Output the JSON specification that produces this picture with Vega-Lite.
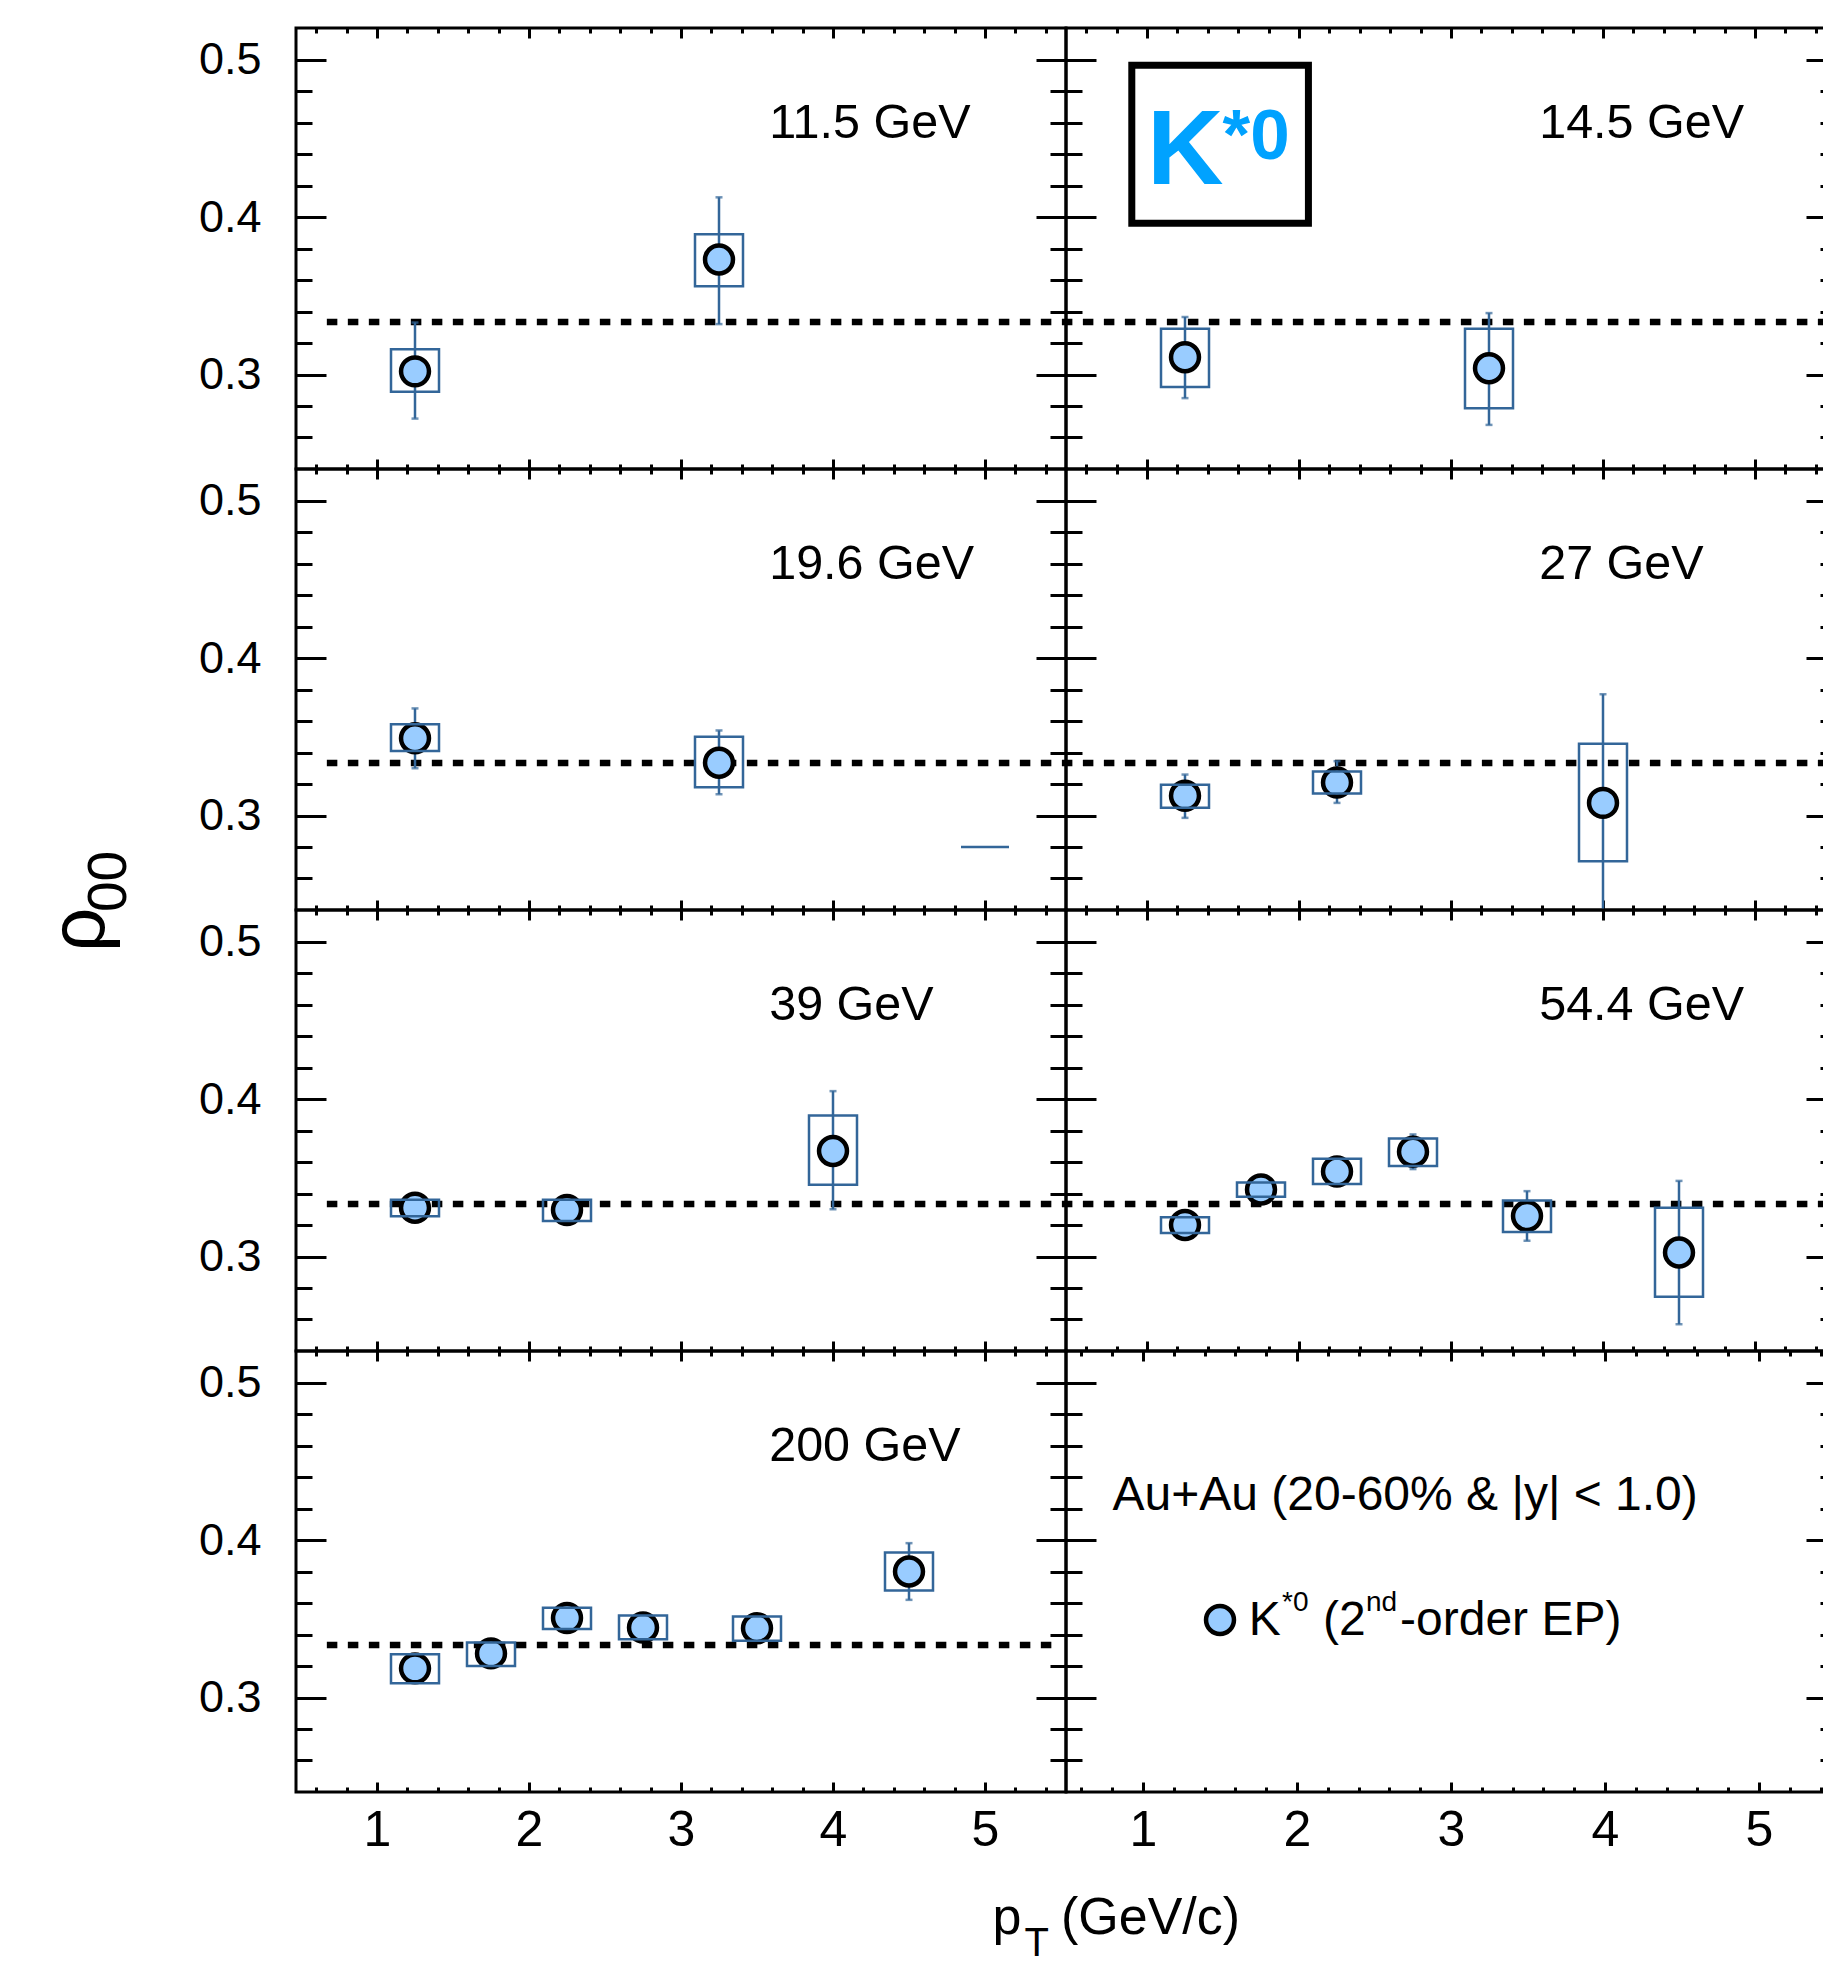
{
  "$schema": "https://vega.github.io/schema/vega-lite/v6.json",
  "background": "white",
  "padding": {"left": 40, "top": 25, "right": 0, "bottom": 0},
  "datasets": {
    "rho00": [
      {"e": "11.5 GeV", "pt": 1.25, "rho": 0.302, "statLo": 0.272, "statHi": 0.333, "sysLo": 0.289, "sysHi": 0.316},
      {"e": "11.5 GeV", "pt": 3.25, "rho": 0.373, "statLo": 0.332, "statHi": 0.4125, "sysLo": 0.356, "sysHi": 0.389},
      {"e": "14.5 GeV", "pt": 1.25, "rho": 0.311, "statLo": 0.285, "statHi": 0.3365, "sysLo": 0.292, "sysHi": 0.329},
      {"e": "14.5 GeV", "pt": 3.25, "rho": 0.304, "statLo": 0.268, "statHi": 0.339, "sysLo": 0.2785, "sysHi": 0.329},
      {"e": "19.6 GeV", "pt": 1.25, "rho": 0.349, "statLo": 0.33, "statHi": 0.368, "sysLo": 0.341, "sysHi": 0.358},
      {"e": "19.6 GeV", "pt": 3.25, "rho": 0.3335, "statLo": 0.3135, "statHi": 0.354, "sysLo": 0.318, "sysHi": 0.35},
      {"e": "19.6 GeV", "pt": 5.0, "rho": null, "statLo": null, "statHi": null, "sysLo": 0.28, "sysHi": 0.28},
      {"e": "27 GeV", "pt": 1.25, "rho": 0.3125, "statLo": 0.2985, "statHi": 0.326, "sysLo": 0.305, "sysHi": 0.3195},
      {"e": "27 GeV", "pt": 2.25, "rho": 0.321, "statLo": 0.308, "statHi": 0.3345, "sysLo": 0.314, "sysHi": 0.328},
      {"e": "27 GeV", "pt": 4.0, "rho": 0.308, "statLo": 0.239, "statHi": 0.377, "sysLo": 0.271, "sysHi": 0.3455},
      {"e": "39 GeV", "pt": 1.25, "rho": 0.331, "statLo": 0.328, "statHi": 0.334, "sysLo": 0.3255, "sysHi": 0.336},
      {"e": "39 GeV", "pt": 2.25, "rho": 0.3295, "statLo": 0.3265, "statHi": 0.3325, "sysLo": 0.3225, "sysHi": 0.336},
      {"e": "39 GeV", "pt": 4.0, "rho": 0.367, "statLo": 0.33, "statHi": 0.405, "sysLo": 0.3455, "sysHi": 0.3895},
      {"e": "54.4 GeV", "pt": 1.25, "rho": 0.32, "statLo": 0.317, "statHi": 0.323, "sysLo": 0.315, "sysHi": 0.325},
      {"e": "54.4 GeV", "pt": 1.75, "rho": 0.3425, "statLo": 0.34, "statHi": 0.345, "sysLo": 0.338, "sysHi": 0.347},
      {"e": "54.4 GeV", "pt": 2.25, "rho": 0.354, "statLo": 0.351, "statHi": 0.357, "sysLo": 0.346, "sysHi": 0.362},
      {"e": "54.4 GeV", "pt": 2.75, "rho": 0.3665, "statLo": 0.3555, "statHi": 0.3775, "sysLo": 0.3575, "sysHi": 0.375},
      {"e": "54.4 GeV", "pt": 3.5, "rho": 0.3257, "statLo": 0.31, "statHi": 0.3415, "sysLo": 0.3155, "sysHi": 0.3355},
      {"e": "54.4 GeV", "pt": 4.5, "rho": 0.3025, "statLo": 0.257, "statHi": 0.348, "sysLo": 0.2745, "sysHi": 0.331},
      {"e": "200 GeV", "pt": 1.25, "rho": 0.3185, "statLo": 0.316, "statHi": 0.321, "sysLo": 0.309, "sysHi": 0.3275},
      {"e": "200 GeV", "pt": 1.75, "rho": 0.328, "statLo": 0.325, "statHi": 0.331, "sysLo": 0.32, "sysHi": 0.335},
      {"e": "200 GeV", "pt": 2.25, "rho": 0.3505, "statLo": 0.348, "statHi": 0.353, "sysLo": 0.3435, "sysHi": 0.357},
      {"e": "200 GeV", "pt": 2.75, "rho": 0.3445, "statLo": 0.342, "statHi": 0.347, "sysLo": 0.337, "sysHi": 0.352},
      {"e": "200 GeV", "pt": 3.5, "rho": 0.344, "statLo": 0.341, "statHi": 0.347, "sysLo": 0.336, "sysHi": 0.3515},
      {"e": "200 GeV", "pt": 4.5, "rho": 0.38, "statLo": 0.362, "statHi": 0.398, "sysLo": 0.368, "sysHi": 0.392}
    ]
  },
  "columns": 2,
  "spacing": 0,
  "bounds": "flush",
  "concat": [
    {
      "width": 770, "height": 441,
      "resolve": {"axis": {"x": "independent", "y": "independent"}},
      "layer": [
        {"data": {"values": [{}]},
         "mark": {"type": "rule", "color": "black", "strokeWidth": 6.5, "strokeDash": [10.5, 10.5]},
         "encoding": {
           "x": {"datum": 0.67, "type": "quantitative", "scale": {"domain": [0.5, 5.5], "nice": false, "zero": false},
                 "axis": {"orient": "bottom", "values": [1, 2, 3, 4, 5], "tickSize": -10, "labels": false, "title": null}},
           "x2": {"datum": 5.5},
           "y": {"datum": 0.3333, "type": "quantitative", "scale": {"domain": [0.24, 0.52], "nice": false, "zero": false},
                 "axis": {"orient": "left", "values": [0.3, 0.4, 0.5], "tickSize": -30, "labelPadding": 65, "format": ".1f", "title": null}}}},
        {"data": {"name": "rho00"}, "transform": [{"filter": "datum.e === '11.5 GeV'"}],
         "mark": {"type": "rule", "color": "#336699", "strokeWidth": 2.5, "clip": true},
         "encoding": {
           "x": {"field": "pt", "type": "quantitative", "axis": {"orient": "top", "values": [1, 2, 3, 4, 5], "tickSize": -10, "labels": false, "title": null}},
           "y": {"field": "statLo", "type": "quantitative", "axis": {"orient": "right", "values": [0.3, 0.4, 0.5], "tickSize": -30, "labels": false, "title": null}},
           "y2": {"field": "statHi"}}},
        {"data": {"name": "rho00"}, "transform": [{"filter": "datum.e === '11.5 GeV'"}],
         "mark": {"type": "tick", "orient": "horizontal", "color": "#336699", "size": 7, "thickness": 2.5, "clip": true},
         "encoding": {
           "x": {"field": "pt", "type": "quantitative", "axis": {"orient": "bottom", "values": [0.6, 0.8, 1.2, 1.4, 1.6, 1.8, 2.2, 2.4, 2.6, 2.8, 3.2, 3.4, 3.6, 3.8, 4.2, 4.4, 4.6, 4.8, 5.2, 5.4], "tickSize": -5, "labels": false, "title": null}},
           "y": {"field": "statLo", "type": "quantitative", "axis": {"orient": "left", "values": [0.26, 0.28, 0.32, 0.34, 0.36, 0.38, 0.42, 0.44, 0.46, 0.48], "tickSize": -16, "labels": false, "title": null}}}},
        {"data": {"name": "rho00"}, "transform": [{"filter": "datum.e === '11.5 GeV'"}],
         "mark": {"type": "tick", "orient": "horizontal", "color": "#336699", "size": 7, "thickness": 2.5, "clip": true},
         "encoding": {
           "x": {"field": "pt", "type": "quantitative", "axis": {"orient": "top", "values": [0.6, 0.8, 1.2, 1.4, 1.6, 1.8, 2.2, 2.4, 2.6, 2.8, 3.2, 3.4, 3.6, 3.8, 4.2, 4.4, 4.6, 4.8, 5.2, 5.4], "tickSize": -5, "labels": false, "title": null}},
           "y": {"field": "statHi", "type": "quantitative", "axis": {"orient": "right", "values": [0.26, 0.28, 0.32, 0.34, 0.36, 0.38, 0.42, 0.44, 0.46, 0.48], "tickSize": -16, "labels": false, "title": null}}}},
        {"data": {"name": "rho00"}, "transform": [{"filter": "datum.e === '11.5 GeV'"}],
         "mark": {"type": "point", "shape": "circle", "filled": true, "fill": "#99ccff", "stroke": "black", "strokeWidth": 4.5, "size": 780, "opacity": 1},
         "encoding": {"x": {"field": "pt", "type": "quantitative", "axis": null}, "y": {"field": "rho", "type": "quantitative", "axis": null}}},
        {"data": {"name": "rho00"}, "transform": [{"filter": "datum.e === '11.5 GeV'"}],
         "mark": {"type": "bar", "width": 48, "fillOpacity": 0, "stroke": "#336699", "strokeWidth": 2.5, "clip": true},
         "encoding": {"x": {"field": "pt", "type": "quantitative", "axis": null}, "y": {"field": "sysLo", "type": "quantitative", "axis": null}, "y2": {"field": "sysHi"}}},
        {"data": {"values": [{}]},
         "mark": {"type": "text", "text": "11.5 GeV", "align": "left", "baseline": "alphabetic", "fontSize": 48.5},
         "encoding": {"x": {"datum": 3.58, "type": "quantitative", "axis": null}, "y": {"datum": 0.45, "type": "quantitative", "axis": null}}}
      ]
    },
    {
      "width": 770, "height": 441,
      "resolve": {"axis": {"x": "independent", "y": "independent"}},
      "layer": [
        {"data": {"values": [{}]},
         "mark": {"type": "rule", "color": "black", "strokeWidth": 6.5, "strokeDash": [10.5, 10.5]},
         "encoding": {
           "x": {"datum": 0.44, "type": "quantitative", "scale": {"domain": [0.5, 5.5], "nice": false, "zero": false},
                 "axis": {"orient": "bottom", "values": [1, 2, 3, 4, 5], "tickSize": -10, "labels": false, "title": null}},
           "x2": {"datum": 5.5},
           "y": {"datum": 0.3333, "type": "quantitative", "scale": {"domain": [0.24, 0.52], "nice": false, "zero": false},
                 "axis": {"orient": "left", "values": [0.3, 0.4, 0.5], "tickSize": -30, "labels": false, "title": null}}}},
        {"data": {"name": "rho00"}, "transform": [{"filter": "datum.e === '14.5 GeV'"}],
         "mark": {"type": "rule", "color": "#336699", "strokeWidth": 2.5, "clip": true},
         "encoding": {
           "x": {"field": "pt", "type": "quantitative", "axis": {"orient": "top", "values": [1, 2, 3, 4, 5], "tickSize": -10, "labels": false, "title": null}},
           "y": {"field": "statLo", "type": "quantitative", "axis": {"orient": "right", "values": [0.3, 0.4, 0.5], "tickSize": -30, "labels": false, "title": null}},
           "y2": {"field": "statHi"}}},
        {"data": {"name": "rho00"}, "transform": [{"filter": "datum.e === '14.5 GeV'"}],
         "mark": {"type": "tick", "orient": "horizontal", "color": "#336699", "size": 7, "thickness": 2.5, "clip": true},
         "encoding": {
           "x": {"field": "pt", "type": "quantitative", "axis": {"orient": "bottom", "values": [0.6, 0.8, 1.2, 1.4, 1.6, 1.8, 2.2, 2.4, 2.6, 2.8, 3.2, 3.4, 3.6, 3.8, 4.2, 4.4, 4.6, 4.8, 5.2, 5.4], "tickSize": -5, "labels": false, "title": null}},
           "y": {"field": "statLo", "type": "quantitative", "axis": {"orient": "left", "values": [0.26, 0.28, 0.32, 0.34, 0.36, 0.38, 0.42, 0.44, 0.46, 0.48], "tickSize": -16, "labels": false, "title": null}}}},
        {"data": {"name": "rho00"}, "transform": [{"filter": "datum.e === '14.5 GeV'"}],
         "mark": {"type": "tick", "orient": "horizontal", "color": "#336699", "size": 7, "thickness": 2.5, "clip": true},
         "encoding": {
           "x": {"field": "pt", "type": "quantitative", "axis": {"orient": "top", "values": [0.6, 0.8, 1.2, 1.4, 1.6, 1.8, 2.2, 2.4, 2.6, 2.8, 3.2, 3.4, 3.6, 3.8, 4.2, 4.4, 4.6, 4.8, 5.2, 5.4], "tickSize": -5, "labels": false, "title": null}},
           "y": {"field": "statHi", "type": "quantitative", "axis": {"orient": "right", "values": [0.26, 0.28, 0.32, 0.34, 0.36, 0.38, 0.42, 0.44, 0.46, 0.48], "tickSize": -16, "labels": false, "title": null}}}},
        {"data": {"name": "rho00"}, "transform": [{"filter": "datum.e === '14.5 GeV'"}],
         "mark": {"type": "point", "shape": "circle", "filled": true, "fill": "#99ccff", "stroke": "black", "strokeWidth": 4.5, "size": 780, "opacity": 1},
         "encoding": {"x": {"field": "pt", "type": "quantitative", "axis": null}, "y": {"field": "rho", "type": "quantitative", "axis": null}}},
        {"data": {"name": "rho00"}, "transform": [{"filter": "datum.e === '14.5 GeV'"}],
         "mark": {"type": "bar", "width": 48, "fillOpacity": 0, "stroke": "#336699", "strokeWidth": 2.5, "clip": true},
         "encoding": {"x": {"field": "pt", "type": "quantitative", "axis": null}, "y": {"field": "sysLo", "type": "quantitative", "axis": null}, "y2": {"field": "sysHi"}}},
        {"data": {"values": [{}]},
         "mark": {"type": "text", "text": "14.5 GeV", "align": "left", "baseline": "alphabetic", "fontSize": 48.5},
         "encoding": {"x": {"datum": 3.58, "type": "quantitative", "axis": null}, "y": {"datum": 0.45, "type": "quantitative", "axis": null}}},
        {"data": {"values": [{}]},
         "mark": {"type": "rect", "fillOpacity": 0, "stroke": "black", "strokeWidth": 7},
         "encoding": {"x": {"datum": 0.9, "type": "quantitative", "axis": null}, "x2": {"datum": 2.062},
                      "y": {"datum": 0.3961, "type": "quantitative", "axis": null}, "y2": {"datum": 0.4964}}},
        {"data": {"values": [{}]},
         "mark": {"type": "text", "text": "K", "align": "left", "baseline": "alphabetic", "fontSize": 106, "fontWeight": "bold", "color": "#00a2ff"},
         "encoding": {"x": {"datum": 1.0, "type": "quantitative", "axis": null}, "y": {"datum": 0.4208, "type": "quantitative", "axis": null}}},
        {"data": {"values": [{}]},
         "mark": {"type": "text", "text": "*0", "align": "left", "baseline": "alphabetic", "fontSize": 71, "fontWeight": "bold", "color": "#00a2ff"},
         "encoding": {"x": {"datum": 1.497, "type": "quantitative", "axis": null}, "y": {"datum": 0.4366, "type": "quantitative", "axis": null}}}
      ]
    },
    {
      "width": 770, "height": 441,
      "resolve": {"axis": {"x": "independent", "y": "independent"}},
      "layer": [
        {"data": {"values": [{}]},
         "mark": {"type": "rule", "color": "black", "strokeWidth": 6.5, "strokeDash": [10.5, 10.5]},
         "encoding": {
           "x": {"datum": 0.67, "type": "quantitative", "scale": {"domain": [0.5, 5.5], "nice": false, "zero": false},
                 "axis": {"orient": "bottom", "values": [1, 2, 3, 4, 5], "tickSize": -10, "labels": false, "title": null}},
           "x2": {"datum": 5.5},
           "y": {"datum": 0.3333, "type": "quantitative", "scale": {"domain": [0.24, 0.52], "nice": false, "zero": false},
                 "axis": {"orient": "left", "values": [0.3, 0.4, 0.5], "tickSize": -30, "labelPadding": 65, "format": ".1f", "title": null}}}},
        {"data": {"name": "rho00"}, "transform": [{"filter": "datum.e === '19.6 GeV'"}],
         "mark": {"type": "rule", "color": "#336699", "strokeWidth": 2.5, "clip": true},
         "encoding": {
           "x": {"field": "pt", "type": "quantitative", "axis": {"orient": "top", "values": [1, 2, 3, 4, 5], "tickSize": -10, "labels": false, "title": null}},
           "y": {"field": "statLo", "type": "quantitative", "axis": {"orient": "right", "values": [0.3, 0.4, 0.5], "tickSize": -30, "labels": false, "title": null}},
           "y2": {"field": "statHi"}}},
        {"data": {"name": "rho00"}, "transform": [{"filter": "datum.e === '19.6 GeV'"}],
         "mark": {"type": "tick", "orient": "horizontal", "color": "#336699", "size": 7, "thickness": 2.5, "clip": true},
         "encoding": {
           "x": {"field": "pt", "type": "quantitative", "axis": {"orient": "bottom", "values": [0.6, 0.8, 1.2, 1.4, 1.6, 1.8, 2.2, 2.4, 2.6, 2.8, 3.2, 3.4, 3.6, 3.8, 4.2, 4.4, 4.6, 4.8, 5.2, 5.4], "tickSize": -5, "labels": false, "title": null}},
           "y": {"field": "statLo", "type": "quantitative", "axis": {"orient": "left", "values": [0.26, 0.28, 0.32, 0.34, 0.36, 0.38, 0.42, 0.44, 0.46, 0.48], "tickSize": -16, "labels": false, "title": null}}}},
        {"data": {"name": "rho00"}, "transform": [{"filter": "datum.e === '19.6 GeV'"}],
         "mark": {"type": "tick", "orient": "horizontal", "color": "#336699", "size": 7, "thickness": 2.5, "clip": true},
         "encoding": {
           "x": {"field": "pt", "type": "quantitative", "axis": {"orient": "top", "values": [0.6, 0.8, 1.2, 1.4, 1.6, 1.8, 2.2, 2.4, 2.6, 2.8, 3.2, 3.4, 3.6, 3.8, 4.2, 4.4, 4.6, 4.8, 5.2, 5.4], "tickSize": -5, "labels": false, "title": null}},
           "y": {"field": "statHi", "type": "quantitative", "axis": {"orient": "right", "values": [0.26, 0.28, 0.32, 0.34, 0.36, 0.38, 0.42, 0.44, 0.46, 0.48], "tickSize": -16, "labels": false, "title": null}}}},
        {"data": {"name": "rho00"}, "transform": [{"filter": "datum.e === '19.6 GeV'"}],
         "mark": {"type": "point", "shape": "circle", "filled": true, "fill": "#99ccff", "stroke": "black", "strokeWidth": 4.5, "size": 780, "opacity": 1},
         "encoding": {"x": {"field": "pt", "type": "quantitative", "axis": null}, "y": {"field": "rho", "type": "quantitative", "axis": null}}},
        {"data": {"name": "rho00"}, "transform": [{"filter": "datum.e === '19.6 GeV'"}],
         "mark": {"type": "bar", "width": 48, "fillOpacity": 0, "stroke": "#336699", "strokeWidth": 2.5, "clip": true},
         "encoding": {"x": {"field": "pt", "type": "quantitative", "axis": null}, "y": {"field": "sysLo", "type": "quantitative", "axis": null}, "y2": {"field": "sysHi"}}},
        {"data": {"values": [{}]},
         "mark": {"type": "text", "text": "19.6 GeV", "align": "left", "baseline": "alphabetic", "fontSize": 48.5},
         "encoding": {"x": {"datum": 3.58, "type": "quantitative", "axis": null}, "y": {"datum": 0.45, "type": "quantitative", "axis": null}}}
      ]
    },
    {
      "width": 770, "height": 441,
      "resolve": {"axis": {"x": "independent", "y": "independent"}},
      "layer": [
        {"data": {"values": [{}]},
         "mark": {"type": "rule", "color": "black", "strokeWidth": 6.5, "strokeDash": [10.5, 10.5]},
         "encoding": {
           "x": {"datum": 0.44, "type": "quantitative", "scale": {"domain": [0.5, 5.5], "nice": false, "zero": false},
                 "axis": {"orient": "bottom", "values": [1, 2, 3, 4, 5], "tickSize": -10, "labels": false, "title": null}},
           "x2": {"datum": 5.5},
           "y": {"datum": 0.3333, "type": "quantitative", "scale": {"domain": [0.24, 0.52], "nice": false, "zero": false},
                 "axis": {"orient": "left", "values": [0.3, 0.4, 0.5], "tickSize": -30, "labels": false, "title": null}}}},
        {"data": {"name": "rho00"}, "transform": [{"filter": "datum.e === '27 GeV'"}],
         "mark": {"type": "rule", "color": "#336699", "strokeWidth": 2.5, "clip": true},
         "encoding": {
           "x": {"field": "pt", "type": "quantitative", "axis": {"orient": "top", "values": [1, 2, 3, 4, 5], "tickSize": -10, "labels": false, "title": null}},
           "y": {"field": "statLo", "type": "quantitative", "axis": {"orient": "right", "values": [0.3, 0.4, 0.5], "tickSize": -30, "labels": false, "title": null}},
           "y2": {"field": "statHi"}}},
        {"data": {"name": "rho00"}, "transform": [{"filter": "datum.e === '27 GeV'"}],
         "mark": {"type": "tick", "orient": "horizontal", "color": "#336699", "size": 7, "thickness": 2.5, "clip": true},
         "encoding": {
           "x": {"field": "pt", "type": "quantitative", "axis": {"orient": "bottom", "values": [0.6, 0.8, 1.2, 1.4, 1.6, 1.8, 2.2, 2.4, 2.6, 2.8, 3.2, 3.4, 3.6, 3.8, 4.2, 4.4, 4.6, 4.8, 5.2, 5.4], "tickSize": -5, "labels": false, "title": null}},
           "y": {"field": "statLo", "type": "quantitative", "axis": {"orient": "left", "values": [0.26, 0.28, 0.32, 0.34, 0.36, 0.38, 0.42, 0.44, 0.46, 0.48], "tickSize": -16, "labels": false, "title": null}}}},
        {"data": {"name": "rho00"}, "transform": [{"filter": "datum.e === '27 GeV'"}],
         "mark": {"type": "tick", "orient": "horizontal", "color": "#336699", "size": 7, "thickness": 2.5, "clip": true},
         "encoding": {
           "x": {"field": "pt", "type": "quantitative", "axis": {"orient": "top", "values": [0.6, 0.8, 1.2, 1.4, 1.6, 1.8, 2.2, 2.4, 2.6, 2.8, 3.2, 3.4, 3.6, 3.8, 4.2, 4.4, 4.6, 4.8, 5.2, 5.4], "tickSize": -5, "labels": false, "title": null}},
           "y": {"field": "statHi", "type": "quantitative", "axis": {"orient": "right", "values": [0.26, 0.28, 0.32, 0.34, 0.36, 0.38, 0.42, 0.44, 0.46, 0.48], "tickSize": -16, "labels": false, "title": null}}}},
        {"data": {"name": "rho00"}, "transform": [{"filter": "datum.e === '27 GeV'"}],
         "mark": {"type": "point", "shape": "circle", "filled": true, "fill": "#99ccff", "stroke": "black", "strokeWidth": 4.5, "size": 780, "opacity": 1},
         "encoding": {"x": {"field": "pt", "type": "quantitative", "axis": null}, "y": {"field": "rho", "type": "quantitative", "axis": null}}},
        {"data": {"name": "rho00"}, "transform": [{"filter": "datum.e === '27 GeV'"}],
         "mark": {"type": "bar", "width": 48, "fillOpacity": 0, "stroke": "#336699", "strokeWidth": 2.5, "clip": true},
         "encoding": {"x": {"field": "pt", "type": "quantitative", "axis": null}, "y": {"field": "sysLo", "type": "quantitative", "axis": null}, "y2": {"field": "sysHi"}}},
        {"data": {"values": [{}]},
         "mark": {"type": "text", "text": "27 GeV", "align": "left", "baseline": "alphabetic", "fontSize": 48.5},
         "encoding": {"x": {"datum": 3.58, "type": "quantitative", "axis": null}, "y": {"datum": 0.45, "type": "quantitative", "axis": null}}}
      ]
    },
    {
      "width": 770, "height": 441,
      "resolve": {"axis": {"x": "independent", "y": "independent"}},
      "layer": [
        {"data": {"values": [{}]},
         "mark": {"type": "rule", "color": "black", "strokeWidth": 6.5, "strokeDash": [10.5, 10.5]},
         "encoding": {
           "x": {"datum": 0.67, "type": "quantitative", "scale": {"domain": [0.5, 5.5], "nice": false, "zero": false},
                 "axis": {"orient": "bottom", "values": [1, 2, 3, 4, 5], "tickSize": -10, "labels": false, "title": null}},
           "x2": {"datum": 5.5},
           "y": {"datum": 0.3333, "type": "quantitative", "scale": {"domain": [0.24, 0.52], "nice": false, "zero": false},
                 "axis": {"orient": "left", "values": [0.3, 0.4, 0.5], "tickSize": -30, "labelPadding": 65, "format": ".1f", "title": null}}}},
        {"data": {"name": "rho00"}, "transform": [{"filter": "datum.e === '39 GeV'"}],
         "mark": {"type": "rule", "color": "#336699", "strokeWidth": 2.5, "clip": true},
         "encoding": {
           "x": {"field": "pt", "type": "quantitative", "axis": {"orient": "top", "values": [1, 2, 3, 4, 5], "tickSize": -10, "labels": false, "title": null}},
           "y": {"field": "statLo", "type": "quantitative", "axis": {"orient": "right", "values": [0.3, 0.4, 0.5], "tickSize": -30, "labels": false, "title": null}},
           "y2": {"field": "statHi"}}},
        {"data": {"name": "rho00"}, "transform": [{"filter": "datum.e === '39 GeV'"}],
         "mark": {"type": "tick", "orient": "horizontal", "color": "#336699", "size": 7, "thickness": 2.5, "clip": true},
         "encoding": {
           "x": {"field": "pt", "type": "quantitative", "axis": {"orient": "bottom", "values": [0.6, 0.8, 1.2, 1.4, 1.6, 1.8, 2.2, 2.4, 2.6, 2.8, 3.2, 3.4, 3.6, 3.8, 4.2, 4.4, 4.6, 4.8, 5.2, 5.4], "tickSize": -5, "labels": false, "title": null}},
           "y": {"field": "statLo", "type": "quantitative", "axis": {"orient": "left", "values": [0.26, 0.28, 0.32, 0.34, 0.36, 0.38, 0.42, 0.44, 0.46, 0.48], "tickSize": -16, "labels": false, "title": null}}}},
        {"data": {"name": "rho00"}, "transform": [{"filter": "datum.e === '39 GeV'"}],
         "mark": {"type": "tick", "orient": "horizontal", "color": "#336699", "size": 7, "thickness": 2.5, "clip": true},
         "encoding": {
           "x": {"field": "pt", "type": "quantitative", "axis": {"orient": "top", "values": [0.6, 0.8, 1.2, 1.4, 1.6, 1.8, 2.2, 2.4, 2.6, 2.8, 3.2, 3.4, 3.6, 3.8, 4.2, 4.4, 4.6, 4.8, 5.2, 5.4], "tickSize": -5, "labels": false, "title": null}},
           "y": {"field": "statHi", "type": "quantitative", "axis": {"orient": "right", "values": [0.26, 0.28, 0.32, 0.34, 0.36, 0.38, 0.42, 0.44, 0.46, 0.48], "tickSize": -16, "labels": false, "title": null}}}},
        {"data": {"name": "rho00"}, "transform": [{"filter": "datum.e === '39 GeV'"}],
         "mark": {"type": "point", "shape": "circle", "filled": true, "fill": "#99ccff", "stroke": "black", "strokeWidth": 4.5, "size": 780, "opacity": 1},
         "encoding": {"x": {"field": "pt", "type": "quantitative", "axis": null}, "y": {"field": "rho", "type": "quantitative", "axis": null}}},
        {"data": {"name": "rho00"}, "transform": [{"filter": "datum.e === '39 GeV'"}],
         "mark": {"type": "bar", "width": 48, "fillOpacity": 0, "stroke": "#336699", "strokeWidth": 2.5, "clip": true},
         "encoding": {"x": {"field": "pt", "type": "quantitative", "axis": null}, "y": {"field": "sysLo", "type": "quantitative", "axis": null}, "y2": {"field": "sysHi"}}},
        {"data": {"values": [{}]},
         "mark": {"type": "text", "text": "39 GeV", "align": "left", "baseline": "alphabetic", "fontSize": 48.5},
         "encoding": {"x": {"datum": 3.58, "type": "quantitative", "axis": null}, "y": {"datum": 0.45, "type": "quantitative", "axis": null}}},
        {"data": {"values": [{}]},
         "mark": {"type": "text", "text": "ρ", "angle": 270, "align": "left", "baseline": "alphabetic", "fontSize": 78},
         "encoding": {"x": {"datum": -0.7985, "type": "quantitative", "axis": null}, "y": {"datum": 0.4933, "type": "quantitative", "axis": null}}},
        {"data": {"values": [{}]},
         "mark": {"type": "text", "text": "00", "angle": 270, "align": "left", "baseline": "alphabetic", "fontSize": 55},
         "encoding": {"x": {"datum": -0.652, "type": "quantitative", "axis": null}, "y": {"datum": 0.5187, "type": "quantitative", "axis": null}}}
      ]
    },
    {
      "width": 770, "height": 441,
      "resolve": {"axis": {"x": "independent", "y": "independent"}},
      "layer": [
        {"data": {"values": [{}]},
         "mark": {"type": "rule", "color": "black", "strokeWidth": 6.5, "strokeDash": [10.5, 10.5]},
         "encoding": {
           "x": {"datum": 0.44, "type": "quantitative", "scale": {"domain": [0.5, 5.5], "nice": false, "zero": false},
                 "axis": {"orient": "bottom", "values": [1, 2, 3, 4, 5], "tickSize": -10, "labels": false, "title": null}},
           "x2": {"datum": 5.5},
           "y": {"datum": 0.3333, "type": "quantitative", "scale": {"domain": [0.24, 0.52], "nice": false, "zero": false},
                 "axis": {"orient": "left", "values": [0.3, 0.4, 0.5], "tickSize": -30, "labels": false, "title": null}}}},
        {"data": {"name": "rho00"}, "transform": [{"filter": "datum.e === '54.4 GeV'"}],
         "mark": {"type": "rule", "color": "#336699", "strokeWidth": 2.5, "clip": true},
         "encoding": {
           "x": {"field": "pt", "type": "quantitative", "axis": {"orient": "top", "values": [1, 2, 3, 4, 5], "tickSize": -10, "labels": false, "title": null}},
           "y": {"field": "statLo", "type": "quantitative", "axis": {"orient": "right", "values": [0.3, 0.4, 0.5], "tickSize": -30, "labels": false, "title": null}},
           "y2": {"field": "statHi"}}},
        {"data": {"name": "rho00"}, "transform": [{"filter": "datum.e === '54.4 GeV'"}],
         "mark": {"type": "tick", "orient": "horizontal", "color": "#336699", "size": 7, "thickness": 2.5, "clip": true},
         "encoding": {
           "x": {"field": "pt", "type": "quantitative", "axis": {"orient": "bottom", "values": [0.6, 0.8, 1.2, 1.4, 1.6, 1.8, 2.2, 2.4, 2.6, 2.8, 3.2, 3.4, 3.6, 3.8, 4.2, 4.4, 4.6, 4.8, 5.2, 5.4], "tickSize": -5, "labels": false, "title": null}},
           "y": {"field": "statLo", "type": "quantitative", "axis": {"orient": "left", "values": [0.26, 0.28, 0.32, 0.34, 0.36, 0.38, 0.42, 0.44, 0.46, 0.48], "tickSize": -16, "labels": false, "title": null}}}},
        {"data": {"name": "rho00"}, "transform": [{"filter": "datum.e === '54.4 GeV'"}],
         "mark": {"type": "tick", "orient": "horizontal", "color": "#336699", "size": 7, "thickness": 2.5, "clip": true},
         "encoding": {
           "x": {"field": "pt", "type": "quantitative", "axis": {"orient": "top", "values": [0.6, 0.8, 1.2, 1.4, 1.6, 1.8, 2.2, 2.4, 2.6, 2.8, 3.2, 3.4, 3.6, 3.8, 4.2, 4.4, 4.6, 4.8, 5.2, 5.4], "tickSize": -5, "labels": false, "title": null}},
           "y": {"field": "statHi", "type": "quantitative", "axis": {"orient": "right", "values": [0.26, 0.28, 0.32, 0.34, 0.36, 0.38, 0.42, 0.44, 0.46, 0.48], "tickSize": -16, "labels": false, "title": null}}}},
        {"data": {"name": "rho00"}, "transform": [{"filter": "datum.e === '54.4 GeV'"}],
         "mark": {"type": "point", "shape": "circle", "filled": true, "fill": "#99ccff", "stroke": "black", "strokeWidth": 4.5, "size": 780, "opacity": 1},
         "encoding": {"x": {"field": "pt", "type": "quantitative", "axis": null}, "y": {"field": "rho", "type": "quantitative", "axis": null}}},
        {"data": {"name": "rho00"}, "transform": [{"filter": "datum.e === '54.4 GeV'"}],
         "mark": {"type": "bar", "width": 48, "fillOpacity": 0, "stroke": "#336699", "strokeWidth": 2.5, "clip": true},
         "encoding": {"x": {"field": "pt", "type": "quantitative", "axis": null}, "y": {"field": "sysLo", "type": "quantitative", "axis": null}, "y2": {"field": "sysHi"}}},
        {"data": {"values": [{}]},
         "mark": {"type": "text", "text": "54.4 GeV", "align": "left", "baseline": "alphabetic", "fontSize": 48.5},
         "encoding": {"x": {"datum": 3.58, "type": "quantitative", "axis": null}, "y": {"datum": 0.45, "type": "quantitative", "axis": null}}}
      ]
    },
    {
      "width": 770, "height": 441,
      "resolve": {"axis": {"x": "independent", "y": "independent"}},
      "layer": [
        {"data": {"values": [{}]},
         "mark": {"type": "rule", "color": "black", "strokeWidth": 6.5, "strokeDash": [10.5, 10.5]},
         "encoding": {
           "x": {"datum": 0.67, "type": "quantitative", "scale": {"domain": [0.5, 5.5], "nice": false, "zero": false},
                 "axis": {"orient": "bottom", "values": [1, 2, 3, 4, 5], "tickSize": -10, "labelPadding": 23, "labelFontSize": 50, "title": null}},
           "x2": {"datum": 5.5},
           "y": {"datum": 0.3333, "type": "quantitative", "scale": {"domain": [0.24, 0.52], "nice": false, "zero": false},
                 "axis": {"orient": "left", "values": [0.3, 0.4, 0.5], "tickSize": -30, "labelPadding": 65, "format": ".1f", "title": null}}}},
        {"data": {"name": "rho00"}, "transform": [{"filter": "datum.e === '200 GeV'"}],
         "mark": {"type": "rule", "color": "#336699", "strokeWidth": 2.5, "clip": true},
         "encoding": {
           "x": {"field": "pt", "type": "quantitative", "axis": {"orient": "top", "values": [1, 2, 3, 4, 5], "tickSize": -10, "labels": false, "title": null}},
           "y": {"field": "statLo", "type": "quantitative", "axis": {"orient": "right", "values": [0.3, 0.4, 0.5], "tickSize": -30, "labels": false, "title": null}},
           "y2": {"field": "statHi"}}},
        {"data": {"name": "rho00"}, "transform": [{"filter": "datum.e === '200 GeV'"}],
         "mark": {"type": "tick", "orient": "horizontal", "color": "#336699", "size": 7, "thickness": 2.5, "clip": true},
         "encoding": {
           "x": {"field": "pt", "type": "quantitative", "axis": {"orient": "bottom", "values": [0.6, 0.8, 1.2, 1.4, 1.6, 1.8, 2.2, 2.4, 2.6, 2.8, 3.2, 3.4, 3.6, 3.8, 4.2, 4.4, 4.6, 4.8, 5.2, 5.4], "tickSize": -5, "labels": false, "title": null}},
           "y": {"field": "statLo", "type": "quantitative", "axis": {"orient": "left", "values": [0.26, 0.28, 0.32, 0.34, 0.36, 0.38, 0.42, 0.44, 0.46, 0.48], "tickSize": -16, "labels": false, "title": null}}}},
        {"data": {"name": "rho00"}, "transform": [{"filter": "datum.e === '200 GeV'"}],
         "mark": {"type": "tick", "orient": "horizontal", "color": "#336699", "size": 7, "thickness": 2.5, "clip": true},
         "encoding": {
           "x": {"field": "pt", "type": "quantitative", "axis": {"orient": "top", "values": [0.6, 0.8, 1.2, 1.4, 1.6, 1.8, 2.2, 2.4, 2.6, 2.8, 3.2, 3.4, 3.6, 3.8, 4.2, 4.4, 4.6, 4.8, 5.2, 5.4], "tickSize": -5, "labels": false, "title": null}},
           "y": {"field": "statHi", "type": "quantitative", "axis": {"orient": "right", "values": [0.26, 0.28, 0.32, 0.34, 0.36, 0.38, 0.42, 0.44, 0.46, 0.48], "tickSize": -16, "labels": false, "title": null}}}},
        {"data": {"name": "rho00"}, "transform": [{"filter": "datum.e === '200 GeV'"}],
         "mark": {"type": "point", "shape": "circle", "filled": true, "fill": "#99ccff", "stroke": "black", "strokeWidth": 4.5, "size": 780, "opacity": 1},
         "encoding": {"x": {"field": "pt", "type": "quantitative", "axis": null}, "y": {"field": "rho", "type": "quantitative", "axis": null}}},
        {"data": {"name": "rho00"}, "transform": [{"filter": "datum.e === '200 GeV'"}],
         "mark": {"type": "bar", "width": 48, "fillOpacity": 0, "stroke": "#336699", "strokeWidth": 2.5, "clip": true},
         "encoding": {"x": {"field": "pt", "type": "quantitative", "axis": null}, "y": {"field": "sysLo", "type": "quantitative", "axis": null}, "y2": {"field": "sysHi"}}},
        {"data": {"values": [{}]},
         "mark": {"type": "text", "text": "200 GeV", "align": "left", "baseline": "alphabetic", "fontSize": 48.5},
         "encoding": {"x": {"datum": 3.58, "type": "quantitative", "axis": null}, "y": {"datum": 0.45, "type": "quantitative", "axis": null}}},
        {"data": {"values": [{}]},
         "mark": {"type": "text", "text": "p", "align": "left", "baseline": "alphabetic", "fontSize": 52},
         "encoding": {"x": {"datum": 5.05, "type": "quantitative", "axis": null}, "y": {"datum": 0.1497, "type": "quantitative", "axis": null}}},
        {"data": {"values": [{}]},
         "mark": {"type": "text", "text": "T", "align": "left", "baseline": "alphabetic", "fontSize": 40},
         "encoding": {"x": {"datum": 5.26, "type": "quantitative", "axis": null}, "y": {"datum": 0.1359, "type": "quantitative", "axis": null}}},
        {"data": {"values": [{}]},
         "mark": {"type": "text", "text": "(GeV/c)", "align": "left", "baseline": "alphabetic", "fontSize": 52},
         "encoding": {"x": {"datum": 5.5, "type": "quantitative", "axis": null}, "y": {"datum": 0.1497, "type": "quantitative", "axis": null}}}
      ]
    },
    {
      "width": 770, "height": 441,
      "resolve": {"axis": {"x": "independent", "y": "independent"}},
      "layer": [
        {"data": {"values": [{}]},
         "mark": {"type": "text", "text": "Au+Au (20-60% & |y| < 1.0)", "align": "left", "baseline": "alphabetic", "fontSize": 48},
         "encoding": {
           "x": {"datum": 0.802, "type": "quantitative", "scale": {"domain": [0.5, 5.5], "nice": false, "zero": false},
                 "axis": {"orient": "bottom", "values": [1, 2, 3, 4, 5], "tickSize": -10, "labelPadding": 23, "labelFontSize": 50, "title": null}},
           "y": {"datum": 0.4191, "type": "quantitative", "scale": {"domain": [0.24, 0.52], "nice": false, "zero": false},
                 "axis": {"orient": "left", "values": [0.3, 0.4, 0.5], "tickSize": -30, "labels": false, "title": null}}}},
        {"data": {"values": [{}]},
         "mark": {"type": "point", "shape": "circle", "filled": true, "fill": "#99ccff", "stroke": "black", "strokeWidth": 4.5, "size": 780, "opacity": 1},
         "encoding": {
           "x": {"datum": 1.5, "type": "quantitative", "axis": {"orient": "top", "values": [1, 2, 3, 4, 5], "tickSize": -10, "labels": false, "title": null}},
           "y": {"datum": 0.3492, "type": "quantitative", "axis": {"orient": "right", "values": [0.3, 0.4, 0.5], "tickSize": -30, "labels": false, "title": null}}}},
        {"data": {"values": [{}]},
         "mark": {"type": "text", "text": "K", "align": "left", "baseline": "alphabetic", "fontSize": 48},
         "encoding": {
           "x": {"datum": 1.686, "type": "quantitative", "axis": {"orient": "bottom", "values": [0.6, 0.8, 1.2, 1.4, 1.6, 1.8, 2.2, 2.4, 2.6, 2.8, 3.2, 3.4, 3.6, 3.8, 4.2, 4.4, 4.6, 4.8, 5.2, 5.4], "tickSize": -5, "labels": false, "title": null}},
           "y": {"datum": 0.34, "type": "quantitative", "axis": {"orient": "left", "values": [0.26, 0.28, 0.32, 0.34, 0.36, 0.38, 0.42, 0.44, 0.46, 0.48], "tickSize": -16, "labels": false, "title": null}}}},
        {"data": {"values": [{}]},
         "mark": {"type": "text", "text": "*0", "align": "left", "baseline": "alphabetic", "fontSize": 28},
         "encoding": {
           "x": {"datum": 1.903, "type": "quantitative", "axis": {"orient": "top", "values": [0.6, 0.8, 1.2, 1.4, 1.6, 1.8, 2.2, 2.4, 2.6, 2.8, 3.2, 3.4, 3.6, 3.8, 4.2, 4.4, 4.6, 4.8, 5.2, 5.4], "tickSize": -5, "labels": false, "title": null}},
           "y": {"datum": 0.355, "type": "quantitative", "axis": {"orient": "right", "values": [0.26, 0.28, 0.32, 0.34, 0.36, 0.38, 0.42, 0.44, 0.46, 0.48], "tickSize": -16, "labels": false, "title": null}}}},
        {"data": {"values": [{}]},
         "mark": {"type": "text", "text": "(2", "align": "left", "baseline": "alphabetic", "fontSize": 48},
         "encoding": {"x": {"datum": 2.169, "type": "quantitative", "axis": null}, "y": {"datum": 0.34, "type": "quantitative", "axis": null}}},
        {"data": {"values": [{}]},
         "mark": {"type": "text", "text": "nd", "align": "left", "baseline": "alphabetic", "fontSize": 28},
         "encoding": {"x": {"datum": 2.448, "type": "quantitative", "axis": null}, "y": {"datum": 0.355, "type": "quantitative", "axis": null}}},
        {"data": {"values": [{}]},
         "mark": {"type": "text", "text": "-order EP)", "align": "left", "baseline": "alphabetic", "fontSize": 48},
         "encoding": {"x": {"datum": 2.669, "type": "quantitative", "axis": null}, "y": {"datum": 0.34, "type": "quantitative", "axis": null}}}
      ]
    }
  ],
  "config": {
    "font": "Liberation Sans",
    "view": {"stroke": "black", "strokeWidth": 3, "fill": null},
    "axis": {"domain": false, "grid": false, "ticks": true, "tickColor": "black", "tickWidth": 3, "labelFont": "Liberation Sans", "labelFontSize": 45, "labelColor": "black", "labelFlush": false, "labelOverlap": false, "labelBound": false},
    "text": {"font": "Liberation Sans", "color": "black"}
  }
}
